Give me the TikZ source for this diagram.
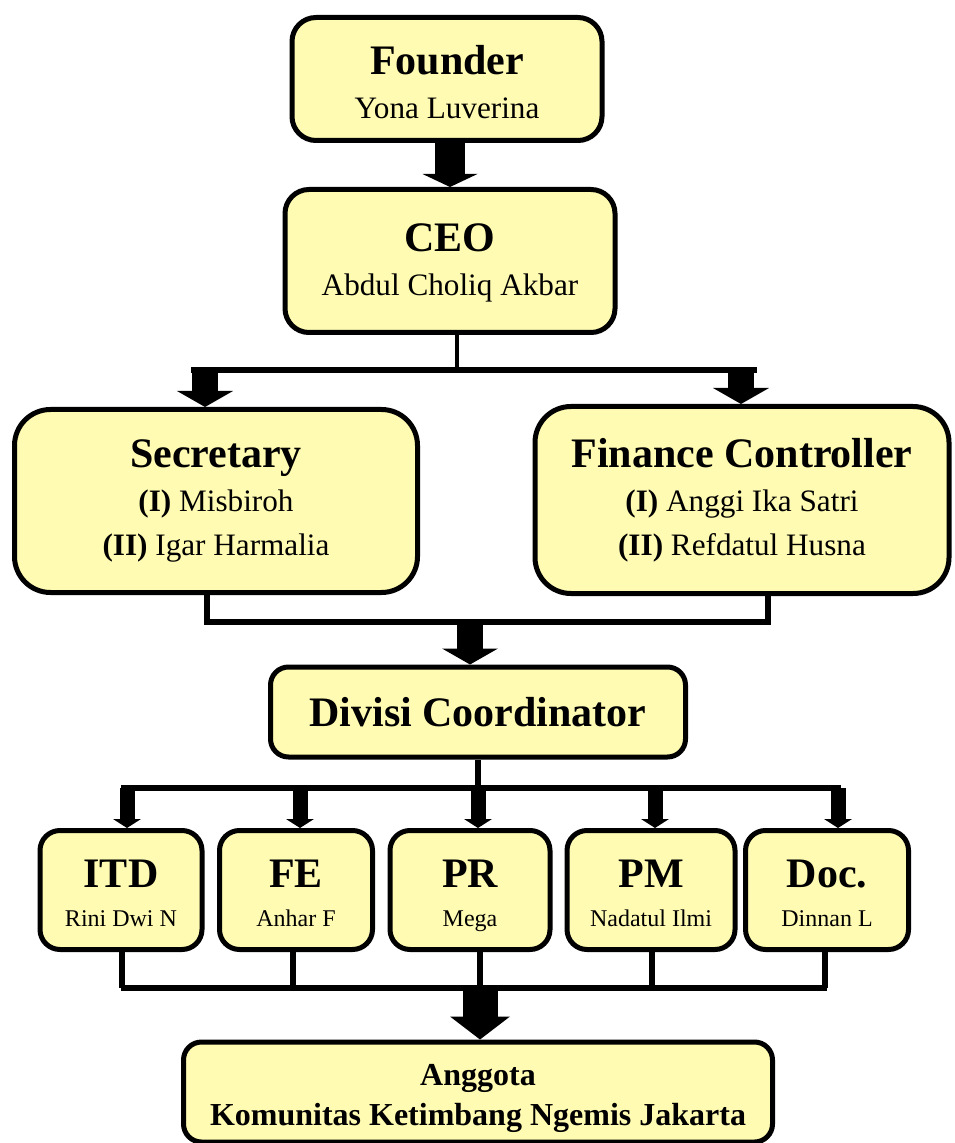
\documentclass[tikz,border=0pt]{standalone}
\usepackage{fontspec}
\setmainfont{Liberation Serif}
\usetikzlibrary{arrows.meta,positioning,calc}
\definecolor{paleyellow}{RGB}{255,251,178}
\newcommand{\boxhead}[1]{{\fontsize{21}{25}\selectfont\bfseries #1}}

\begin{document}
\begin{tikzpicture}[
    x=0.5pt, y=-0.5pt,
    box/.style={rectangle, draw, line width=2.5pt, fill=paleyellow, rounded corners=12pt, inner sep=0pt, align=center, font=\fontsize{15.6}{22}\selectfont},
    unit/.style={box, rounded corners=10pt, minimum height=59.5pt, text height=38.6pt, text depth=2.6pt, font=\fontsize{12}{19.5}\selectfont},
    link/.style={line width=3pt},
    bigarrow/.style={line width=15pt, -{Triangle[length=6.5pt, width=27.5pt, line width=0pt]}},
    midarrow/.style={line width=13pt, -{Triangle[length=8pt, width=28pt, line width=0pt]}},
    smallarrow/.style={line width=7.5pt, -{Triangle[length=4.5pt, width=14pt, line width=0pt]}},
    hugearrow/.style={line width=17.5pt, -{Triangle[length=11.5pt, width=30pt, line width=0pt]}}
]
    \useasboundingbox (0,0) rectangle (954,1143);

    % Founder and CEO
    \node[box, minimum width=155pt, minimum height=61.5pt, text height=39.5pt] (founder) at (447,79) {\boxhead{Founder}\\ Yona Luverina};
    \node[box, minimum width=165pt, minimum height=71.5pt, text height=38pt] (ceo) at (450,261) {\boxhead{CEO}\\ Abdul Choliq Akbar};
    \draw[bigarrow] (ceo.north |- founder.south) -- (ceo.north);

    % Secretary and Finance Controller
    \node[box, rounded corners=18pt, minimum width=201.5pt, minimum height=91.5pt] (sec) at (216,501) {\boxhead{Secretary}\\ \textbf{(I)} Misbiroh\\ \textbf{(II)} Igar Harmalia};
    \node[box, rounded corners=18pt, minimum width=207pt, minimum height=93.5pt] (fin) at (742,500) {\boxhead{Finance Controller}\\ \textbf{(I)} Anggi Ika Satri\\ \textbf{(II)} Refdatul Husna};
    \coordinate (j1) at (457,370);
    \coordinate (sa) at (205,370);
    \coordinate (fa) at (741,370);
    \draw[line width=2.2pt] (ceo.south -| j1) -- (j1);
    \draw[link] ([xshift=-7pt]sa) -- ([xshift=8pt]fa);
    \draw[midarrow] (sa) -- (sa |- sec.north);
    \draw[midarrow] (fa) -- (fa |- fin.north);

    % Divisi Coordinator
    \node[box, rounded corners=9pt, minimum width=207.5pt, minimum height=45pt] (div) at (478,712) {\boxhead{Divisi Coordinator}};
    \coordinate (s2) at (207,622);
    \coordinate (f2) at (768,622);
    \coordinate (j2) at (470,622);
    \draw[link] (sec.south -| s2) -- (s2) -- (f2) -- (fin.south -| f2);
    \draw[midarrow] (j2) -- (j2 |- div.north);

    % Divisions
    \node[unit, minimum width=81pt] (itd) at (121,890) {\boxhead{ITD}\\ Rini Dwi N};
    \node[unit, minimum width=76.5pt] (fe) at (296,890) {\boxhead{FE}\\ Anhar F};
    \node[unit, minimum width=80pt] (pr) at (470,890) {\boxhead{PR}\\ Mega};
    \node[unit, minimum width=84pt] (pm) at (651,890) {\boxhead{PM}\\ Nadatul Ilmi};
    \node[unit, minimum width=81.5pt] (doc) at (827,890) {\boxhead{Doc.}\\ Dinnan L};
    \coordinate (j3) at (478,788);
    \draw[link] (div.south -| j3) -- (j3);
    \foreach \n/\x in {itd/127, fe/300, pr/478, pm/655, doc/838} {
        \coordinate (t\n) at (\x,788);
        \draw[smallarrow] (t\n) -- (t\n |- \n.north);
    }
    \draw[link] ([xshift=-3pt]titd) -- ([xshift=1.5pt]tdoc);

    % Anggota
    \node[box, rounded corners=9pt, minimum width=294.5pt, minimum height=50pt, text height=37pt, text depth=3.5pt, font=\fontsize{16}{20}\selectfont\bfseries] (angg) at (478,1092) {Anggota\\ Komunitas Ketimbang Ngemis Jakarta};
    \foreach \n/\x in {itd/122, fe/293, pr/480, pm/652, doc/825} {
        \coordinate (b\n) at (\x,988);
        \draw[link] (\n.south -| b\n) -- (b\n);
    }
    \draw[link] ([xshift=-0.75pt]bitd) -- ([xshift=0.75pt]bdoc);
    \draw[hugearrow] (bpr) -- (bpr |- angg.north);
\end{tikzpicture}
\end{document}
